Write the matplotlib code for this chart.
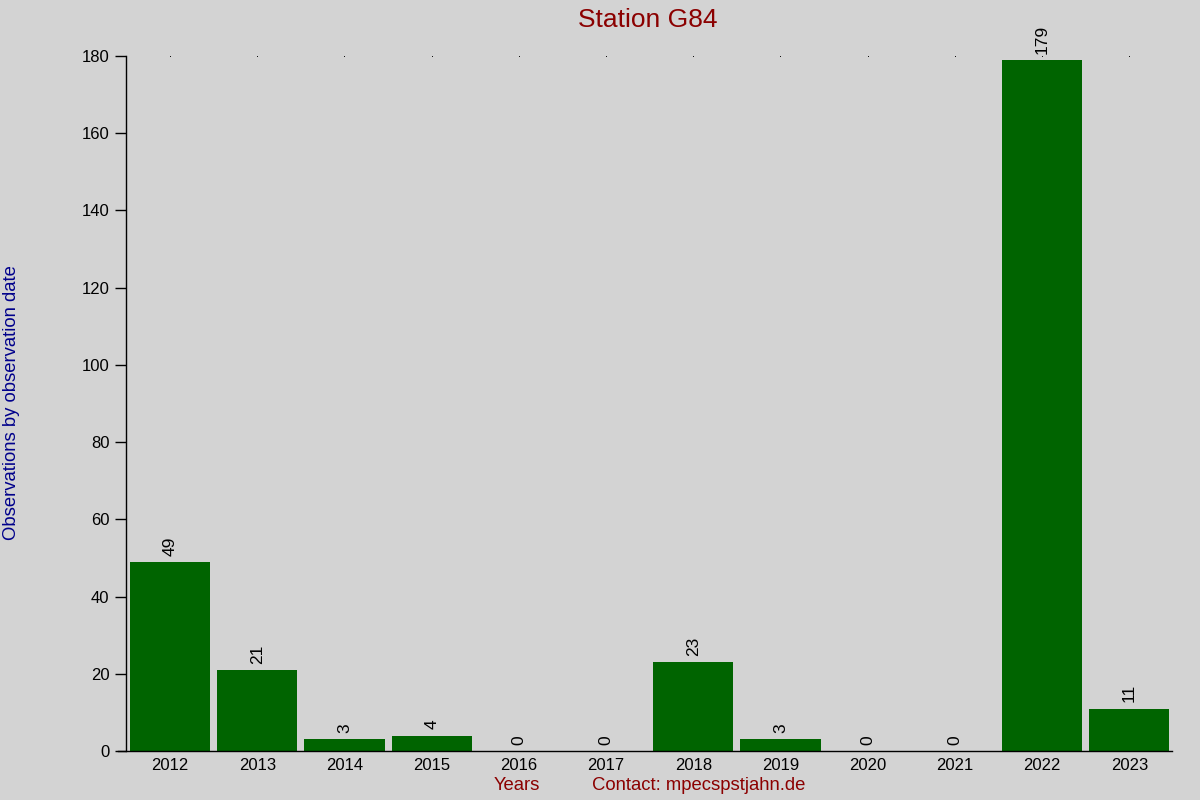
import numpy as np
import matplotlib.pyplot as plt

plt.rcParams['font.family'] = ['Liberation Sans', 'DejaVu Sans']

# Werte aus dem Diagramm
years = ['2012', '2013', '2014', '2015', '2016', '2017',
         '2018', '2019', '2020', '2021', '2022', '2023']
counts = [49, 21, 3, 4, 0, 0, 23, 3, 0, 0, 179, 11]

bg = '#d3d3d3'
fig = plt.figure(figsize=(12, 8), dpi=100, facecolor=bg)
ax = fig.add_axes([0.105, 0.06125, 0.8717, 0.86875], facecolor=bg)

x = np.arange(len(years))
ax.bar(x, counts, width=0.92, color='#006400')

# Zahlen über den Balken
for xi, c in zip(x, counts):
    ax.text(xi, c + 1.6, str(c), rotation=90, ha='center', va='bottom',
            fontsize=12.5, color='black')

ax.set_xlim(-0.505, 11.49)
ax.set_ylim(0, 180)
ax.set_yticks(range(0, 181, 20))
ax.set_xticks(x)
ax.set_xticklabels(years)

for s in ['top', 'right']:
    ax.spines[s].set_visible(False)
ax.spines['left'].set_linewidth(1)
ax.spines['bottom'].set_linewidth(1)
ax.spines['bottom'].set_bounds(-0.6, 11.49)

ax.tick_params(axis='y', direction='out', length=8, width=1,
               labelsize=12, pad=4)
ax.tick_params(axis='x', length=0, labelsize=12, pad=5)
# kleine Punkte oben
for xi in x:
    ax.plot(xi, 180, marker='s', markersize=0.6, markeredgewidth=0,
            color='black', clip_on=False)

fig.text(0.54, 0.975, 'Station G84', ha='center', va='center',
         fontsize=19, color='#8b0000')
fig.text(0.0095, 0.497, 'Observations by observation date', rotation=90,
         ha='center', va='center', fontsize=13.3, color='#00008b')
fig.text(0.431, 0.018, 'Years', ha='center', va='center',
         fontsize=13.3, color='#8b0000')
fig.text(0.582, 0.018, 'Contact: mpecspstjahn.de', ha='center',
         va='center', fontsize=13.3, color='#8b0000')

fig.savefig('out.png', dpi=100, facecolor=bg)
